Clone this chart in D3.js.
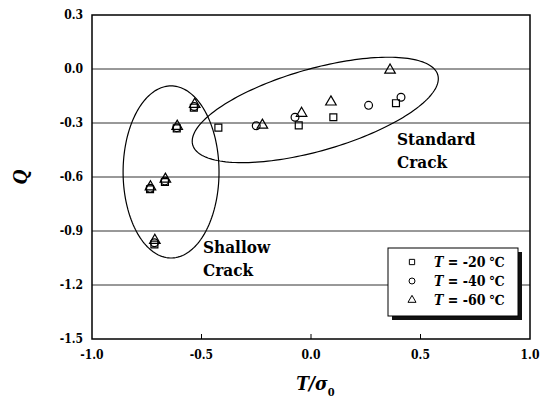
<!DOCTYPE html>
<html>
<head>
<meta charset="utf-8">
<script src="https://cdn.jsdelivr.net/npm/d3@7"></script>
<style>
  body { margin: 0; background: #fff; }
</style>
</head>
<body>
<div id="chart"></div>
<script>
// values (T/sigma0, Q)
const seriesNames = ["-20", "-40", "-60"]
const symbols = ["square", "circle", "triangle"]
const xT20 = [-0.535, -0.613, -0.735, -0.667, -0.715, -0.423, -0.056, 0.102, 0.388]
const yT20 = [-0.215, -0.330, -0.668, -0.628, -0.975, -0.326, -0.313, -0.268, -0.190]
const xT40 = [-0.533, -0.613, -0.735, -0.667, -0.715, -0.250, -0.073, 0.263, 0.411]
const yT40 = [-0.208, -0.326, -0.663, -0.622, -0.965, -0.315, -0.268, -0.202, -0.157]
const xT60 = [-0.531, -0.611, -0.733, -0.665, -0.713, -0.222, -0.043, 0.091, 0.361]
const yT60 = [-0.196, -0.318, -0.655, -0.612, -0.952, -0.312, -0.246, -0.183, -0.006]
const xTicks = [-1.0, -0.5, 0.0, 0.5, 1.0]
const yTicks = [0.3, 0.0, -0.3, -0.6, -0.9, -1.2, -1.5]

const serif = "'DejaVu Serif Condensed', 'DejaVu Serif'"
const width = 546, height = 401
const margin = { top: 15, right: 16, bottom: 62, left: 92 }

const svg = d3.select("#chart").append("svg")
    .attr("width", width)
    .attr("height", height)
    .attr("font-family", serif)

const x = d3.scaleLinear().domain([-1, 1]).range([margin.left, width - margin.right])
const y = d3.scaleLinear().domain([-1.5, 0.3]).range([height - margin.bottom, margin.top])

// grid lines
svg.append("g")
    .selectAll("line")
    .data(yTicks.slice(1, -1))
    .join("line")
    .attr("x1", x(-1)).attr("x2", x(1))
    .attr("y1", d => y(d)).attr("y2", d => y(d))
    .attr("stroke", "#333")
    .attr("stroke-width", 1)

// x ticks (inside)
svg.append("g")
    .selectAll("line")
    .data(xTicks.slice(1, -1))
    .join("line")
    .attr("x1", d => x(d)).attr("x2", d => x(d))
    .attr("y1", y(-1.5)).attr("y2", y(-1.5) - 5)
    .attr("stroke", "#000")

// frame
svg.append("rect")
    .attr("x", x(-1)).attr("y", y(0.3))
    .attr("width", x(1) - x(-1)).attr("height", y(-1.5) - y(0.3))
    .attr("fill", "none")
    .attr("stroke", "#000")
    .attr("stroke-width", 1.5)

// tick labels
svg.append("g")
    .selectAll("text")
    .data(yTicks)
    .join("text")
    .attr("x", x(-1) - 9)
    .attr("y", d => y(d))
    .attr("dy", "0.35em")
    .attr("text-anchor", "end")
    .style("font-size", "12px")
    .style("font-weight", "bold")
    .text(d => d3.format(".1f")(d).replace("−", "-"))

svg.append("g")
    .selectAll("text")
    .data(xTicks)
    .join("text")
    .attr("x", d => x(d))
    .attr("y", y(-1.5) + 20)
    .attr("text-anchor", "middle")
    .style("font-size", "12px")
    .style("font-weight", "bold")
    .text(d => d3.format(".1f")(d).replace("−", "-"))

// axis titles
svg.append("text")
    .attr("transform", `translate(27,${y(-0.6)}) rotate(-90)`)
    .attr("text-anchor", "middle")
    .style("font-size", "19px")
    .style("font-weight", "bold")
    .style("font-style", "italic")
    .text("Q")

const xt = svg.append("text")
    .attr("x", x(0.02))
    .attr("y", 390)
    .attr("text-anchor", "middle")
    .style("font-size", "19px")
    .style("font-weight", "bold")
xt.append("tspan").style("font-style", "italic").text("T")
xt.append("tspan").style("font-style", "italic").text("/")
xt.append("tspan").style("font-style", "italic").text("σ")
xt.append("tspan").attr("dy", 6).style("font-size", "11px").text("0")

// ellipses, center + two half-axis vectors in data units
const ellipses = [
    { c: [-0.639, -0.572], u: [0.219, 0], v: [0, 0.478] },
    { c: [0.0195, -0.2275], u: [0.5595, 0.1945], v: [0.0515, -0.219] }
]
const line = d3.line().curve(d3.curveLinearClosed)
ellipses.forEach(e => {
    const pts = d3.range(0, 2 * Math.PI, Math.PI / 90).map(t => [
        x(e.c[0] + Math.cos(t) * e.u[0] + Math.sin(t) * e.v[0]),
        y(e.c[1] + Math.cos(t) * e.u[1] + Math.sin(t) * e.v[1])
    ])
    svg.append("path")
        .attr("d", line(pts))
        .attr("fill", "none")
        .attr("stroke", "#000")
        .attr("stroke-width", 1.2)
})

// annotations
const notes = [
    { x: 0.393, y: -0.422, lines: ["Standard", "Crack"] },
    { x: -0.493, y: -1.022, lines: ["Shallow", "Crack"] }
]
notes.forEach(n => {
    const t = svg.append("text")
        .attr("x", x(n.x)).attr("y", y(n.y))
        .style("font-size", "17px")
        .style("font-weight", "bold")
    n.lines.forEach((s, i) => {
        t.append("tspan").attr("x", x(n.x)).attr("dy", i ? 23 : 0).text(s)
    })
})

// markers
const symType = { square: d3.symbolSquare, circle: d3.symbolCircle, triangle: d3.symbolTriangle }
const series = [
    { name: seriesNames[0], s: symbols[0], xs: xT20, ys: yT20 },
    { name: seriesNames[1], s: symbols[1], xs: xT40, ys: yT40 },
    { name: seriesNames[2], s: symbols[2], xs: xT60, ys: yT60 }
]
series.forEach(se => {
    svg.append("g")
        .selectAll("path")
        .data(se.xs.map((d, i) => [d, se.ys[i]]))
        .join("path")
        .attr("transform", d => `translate(${x(d[0])},${y(d[1])})`)
        .attr("d", d3.symbol().type(symType[se.s]).size(48))
        .attr("fill", "none")
        .attr("stroke", "#000")
        .attr("stroke-width", 1.2)
})

// legend
const lg = svg.append("g").attr("transform", "translate(388,248)")
lg.append("rect").attr("x", 4).attr("y", 4).attr("width", 130).attr("height", 68).attr("fill", "#111")
lg.append("rect").attr("width", 130).attr("height", 68).attr("fill", "#fff").attr("stroke", "#000")
series.forEach((se, i) => {
    const yy = 14 + i * 19
    lg.append("path")
        .attr("transform", `translate(24,${yy})`)
        .attr("d", d3.symbol().type(symType[se.s]).size(28))
        .attr("fill", "none")
        .attr("stroke", "#000")
    const t = lg.append("text")
        .attr("x", 46).attr("y", yy).attr("dy", "0.35em")
        .style("font-size", "14px")
        .style("font-weight", "bold")
    t.append("tspan").style("font-style", "italic").text("T")
    t.append("tspan").text(" = " + se.name + " ℃")
})
</script>
</body>
</html>
